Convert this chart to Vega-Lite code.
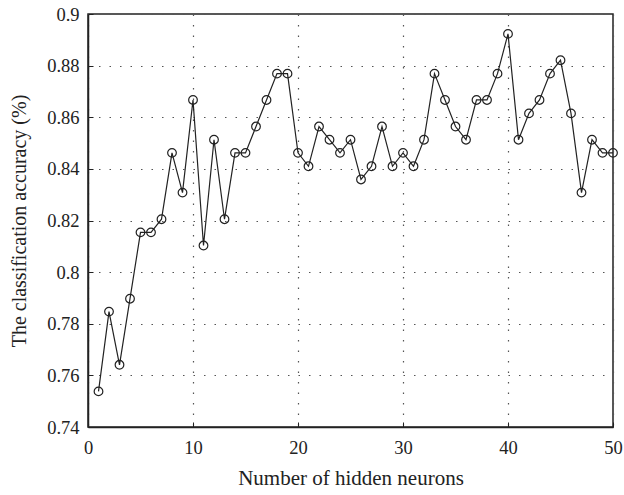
{
  "$schema": "https://vega.github.io/schema/vega-lite/v6.json",
  "width": 525,
  "height": 413,
  "autosize": {"type": "none"},
  "padding": {"left": 88, "top": 14, "right": 11, "bottom": 68},
  "background": "white",
  "config": {
    "font": "Liberation Serif",
    "view": {"stroke": "#222", "strokeWidth": 1.5},
    "axis": {
      "labelFont": "Liberation Serif",
      "titleFont": "Liberation Serif",
      "labelFontSize": 18.5,
      "titleFontSize": 20,
      "titleFontWeight": "normal",
      "labelColor": "#222",
      "titleColor": "#222",
      "domainColor": "#222",
      "domainWidth": 1.5,
      "tickColor": "#222",
      "tickSize": -5,
      "grid": true,
      "gridColor": "#555",
      "gridDash": [1.5, 9],
      "gridWidth": 1.2
    }
  },
  "data": {
    "values": [
      {"n": 1, "acc": 0.7538}, {"n": 2, "acc": 0.7847}, {"n": 3, "acc": 0.7641},
      {"n": 4, "acc": 0.7897}, {"n": 5, "acc": 0.8154}, {"n": 6, "acc": 0.8154},
      {"n": 7, "acc": 0.8205}, {"n": 8, "acc": 0.8462}, {"n": 9, "acc": 0.8308},
      {"n": 10, "acc": 0.8667}, {"n": 11, "acc": 0.8103}, {"n": 12, "acc": 0.8513},
      {"n": 13, "acc": 0.8205}, {"n": 14, "acc": 0.8462}, {"n": 15, "acc": 0.8462},
      {"n": 16, "acc": 0.8564}, {"n": 17, "acc": 0.8667}, {"n": 18, "acc": 0.8769},
      {"n": 19, "acc": 0.8769}, {"n": 20, "acc": 0.8462}, {"n": 21, "acc": 0.841},
      {"n": 22, "acc": 0.8564}, {"n": 23, "acc": 0.8513}, {"n": 24, "acc": 0.8462},
      {"n": 25, "acc": 0.8513}, {"n": 26, "acc": 0.8359}, {"n": 27, "acc": 0.841},
      {"n": 28, "acc": 0.8564}, {"n": 29, "acc": 0.841}, {"n": 30, "acc": 0.8462},
      {"n": 31, "acc": 0.841}, {"n": 32, "acc": 0.8513}, {"n": 33, "acc": 0.8769},
      {"n": 34, "acc": 0.8667}, {"n": 35, "acc": 0.8564}, {"n": 36, "acc": 0.8513},
      {"n": 37, "acc": 0.8667}, {"n": 38, "acc": 0.8667}, {"n": 39, "acc": 0.8769},
      {"n": 40, "acc": 0.8923}, {"n": 41, "acc": 0.8513}, {"n": 42, "acc": 0.8615},
      {"n": 43, "acc": 0.8667}, {"n": 44, "acc": 0.8769}, {"n": 45, "acc": 0.8821},
      {"n": 46, "acc": 0.8615}, {"n": 47, "acc": 0.8308}, {"n": 48, "acc": 0.8513},
      {"n": 49, "acc": 0.8462}, {"n": 50, "acc": 0.8462}
    ]
  },
  "encoding": {
    "x": {
      "field": "n",
      "type": "quantitative",
      "scale": {"domain": [0, 50], "nice": false, "zero": false},
      "axis": {"values": [0, 10, 20, 30, 40, 50], "title": "Number of hidden neurons", "titleFontSize": 21, "labelPadding": 16, "labelFlush": false, "titleY": 51, "titleBaseline": "middle"}
    },
    "y": {
      "field": "acc",
      "type": "quantitative",
      "scale": {"domain": [0.74, 0.9], "nice": false, "zero": false},
      "axis": {"values": [0.74, 0.76, 0.78, 0.8, 0.82, 0.84, 0.86, 0.88, 0.9], "format": ".2~f", "title": "The classification accuracy (%)", "labelPadding": 14, "labelFlush": false, "titleX": -69, "titleBaseline": "middle"}
    }
  },
  "layer": [
    {"mark": {"type": "line", "color": "#222", "strokeWidth": 1.2}},
    {"mark": {"type": "point", "shape": "circle", "filled": false, "color": "#222", "size": 75, "strokeWidth": 1.2, "opacity": 1}}
  ]
}
